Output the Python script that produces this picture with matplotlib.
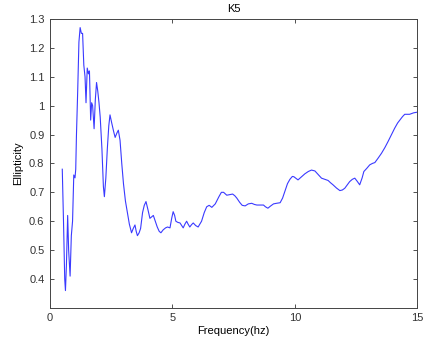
import matplotlib
matplotlib.use('Agg')
import matplotlib.pyplot as plt

# frequency (hz) and ellipticity for station K5
freq = [0.50, 0.55, 0.60, 0.63, 0.67, 0.72, 0.76, 0.82, 0.87, 0.92, 0.97, 1.02, 1.05,
        1.08, 1.13, 1.18, 1.23, 1.28, 1.33, 1.38, 1.43, 1.47, 1.52, 1.57, 1.61, 1.66,
        1.70, 1.74, 1.80, 1.85, 1.90, 1.95, 2.00, 2.05, 2.12, 2.18, 2.22, 2.28, 2.34,
        2.40, 2.45, 2.52, 2.60, 2.66, 2.73, 2.79, 2.86, 2.93, 3.00, 3.08, 3.16, 3.24,
        3.33, 3.40, 3.47, 3.52, 3.57, 3.64, 3.70, 3.78, 3.85, 3.92, 4.00, 4.08, 4.15,
        4.22, 4.30, 4.38, 4.46, 4.53, 4.62, 4.72, 4.80, 4.90, 4.97, 5.03, 5.09, 5.14,
        5.22, 5.31, 5.38, 5.44, 5.51, 5.58, 5.64, 5.71, 5.78, 5.85, 5.95, 6.05, 6.12,
        6.19, 6.30, 6.40, 6.50, 6.61, 6.75, 6.90, 7.00, 7.09, 7.22, 7.34, 7.46, 7.55,
        7.63, 7.75, 7.85, 7.97, 8.10, 8.24, 8.35, 8.45, 8.60, 8.72, 8.80, 8.90, 9.00,
        9.13, 9.25, 9.40, 9.50, 9.60, 9.70, 9.80, 9.90, 9.96, 10.05, 10.13, 10.25, 10.41,
        10.55, 10.68, 10.82, 10.95, 11.09, 11.22, 11.36, 11.46, 11.56, 11.70, 11.84,
        11.94, 12.04, 12.15, 12.24, 12.35, 12.45, 12.55, 12.65, 12.75, 12.82, 12.94,
        13.06, 13.17, 13.27, 13.40, 13.54, 13.68, 13.81, 13.95, 14.08, 14.20, 14.29,
        14.40, 14.49, 14.60, 14.69, 14.85, 14.98]
ellip = [0.78, 0.60, 0.40, 0.36, 0.45, 0.62, 0.50, 0.41, 0.55, 0.60, 0.76, 0.75, 0.78,
         0.90, 1.05, 1.22, 1.27, 1.25, 1.25, 1.14, 1.10, 1.01, 1.13, 1.11, 1.12, 0.95,
         1.01, 1.00, 0.92, 1.02, 1.08, 1.05, 1.01, 0.96, 0.85, 0.72, 0.685, 0.75, 0.85,
         0.93, 0.968, 0.94, 0.91, 0.89, 0.905, 0.915, 0.88, 0.80, 0.73, 0.67, 0.63, 0.59,
         0.56, 0.575, 0.587, 0.565, 0.55, 0.56, 0.575, 0.63, 0.655, 0.668, 0.64, 0.61, 0.615,
         0.62, 0.60, 0.58, 0.565, 0.56, 0.57, 0.577, 0.58, 0.577, 0.61, 0.633, 0.62, 0.60,
         0.596, 0.594, 0.585, 0.577, 0.59, 0.60, 0.59, 0.58, 0.588, 0.594, 0.585, 0.58, 0.59,
         0.60, 0.63, 0.65, 0.655, 0.648, 0.66, 0.685, 0.70, 0.70, 0.69, 0.692, 0.694, 0.688,
         0.68, 0.665, 0.655, 0.653, 0.66, 0.662, 0.658, 0.656, 0.656, 0.656, 0.65, 0.645, 0.652,
         0.66, 0.662, 0.664, 0.68, 0.705, 0.73, 0.745, 0.755, 0.754, 0.748, 0.743, 0.752, 0.764,
         0.772, 0.777, 0.774, 0.762, 0.749, 0.745, 0.741, 0.733, 0.726, 0.715, 0.706,
         0.708, 0.714, 0.727, 0.737, 0.745, 0.749, 0.738, 0.726, 0.75, 0.772, 0.783,
         0.795, 0.80, 0.803, 0.818, 0.835, 0.855, 0.876, 0.90, 0.922, 0.94, 0.95,
         0.962, 0.97, 0.97, 0.97, 0.975, 0.977]

xticks = [0, 5, 10, 15]
yticks = [0.4, 0.5, 0.6, 0.7, 0.8, 0.9, 1.0, 1.1, 1.2, 1.3]
yticklabels = ['0.4', '0.5', '0.6', '0.7', '0.8', '0.9', '1', '1.1', '1.2', '1.3']

plt.rcParams['font.family'] = ['Liberation Sans', 'DejaVu Sans']
plt.rcParams['font.size'] = 8

fig = plt.figure(figsize=(4.24, 3.38), dpi=100)
ax = fig.add_axes([0.118, 0.089, 0.866, 0.855])

ax.plot(freq, ellip, color='#3a3aff', lw=0.8)

ax.set_xlim(0, 15)
ax.set_ylim(0.3, 1.3)
ax.set_xticks(xticks)
ax.set_yticks(yticks)
ax.set_yticklabels(yticklabels)
ax.tick_params(direction='in', length=3, width=0.6, top=True, right=True,
               labelsize=8, colors='#333333', pad=4)
for s in ax.spines.values():
    s.set_linewidth(0.7)
    s.set_color('#444444')

ax.set_title('K5', fontsize=8, pad=5)
ax.set_xlabel('Frequency(hz)', fontsize=8, labelpad=2)
ax.set_ylabel('Ellipticity', fontsize=8, labelpad=4)

fig.savefig('out.png', dpi=100)
